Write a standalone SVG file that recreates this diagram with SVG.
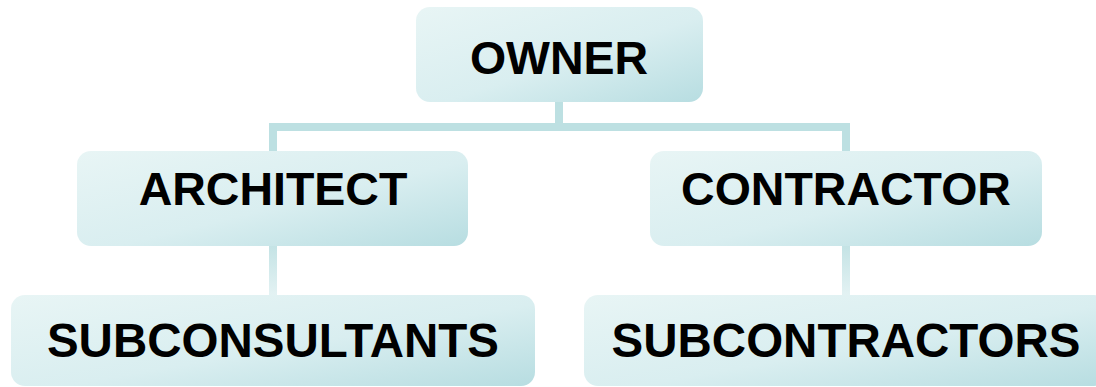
<svg xmlns="http://www.w3.org/2000/svg" width="1096" height="387" viewBox="0 0 1096 387">
  <defs>
    <linearGradient id="boxGrad" x1="0" y1="0" x2="1" y2="1">
      <stop offset="0" stop-color="#e8f5f5"/>
      <stop offset="0.55" stop-color="#d9eef0"/>
      <stop offset="1" stop-color="#b7dde1"/>
    </linearGradient>
    <linearGradient id="lowGrad" x1="0" y1="0" x2="0" y2="1">
      <stop offset="0" stop-color="#c4e3e5"/>
      <stop offset="1" stop-color="#e3f2f3"/>
    </linearGradient>
    <style>
      .box { fill: url(#boxGrad); }
      .lbl { font-family: "Liberation Sans", Arial, sans-serif; font-weight: bold; fill: #000; text-anchor: middle; }
      .top { font-size: 46.5px; }
      .bot { font-size: 47.5px; }
      .conn { fill: #bde0e2; }
      .connLow { fill: url(#lowGrad); }
    </style>
  </defs>
  <g id="connectors">
    <rect class="conn" x="555" y="102" width="8" height="25"/>
    <rect class="conn" x="269" y="123" width="581" height="8"/>
    <rect class="conn" x="269" y="123" width="8" height="28"/>
    <rect class="conn" x="842" y="123" width="8" height="28"/>
    <rect class="connLow" x="269" y="246" width="8" height="49"/>
    <rect class="connLow" x="842" y="246" width="8" height="49"/>
  </g>
  <g id="owner">
    <rect class="box" x="416" y="7" width="287" height="95" rx="14"/>
    <text class="lbl top" x="559" y="74">OWNER</text>
  </g>
  <g id="architect">
    <rect class="box" x="77" y="151" width="391" height="95" rx="14"/>
    <text class="lbl top" x="273" y="205">ARCHITECT</text>
  </g>
  <g id="contractor">
    <rect class="box" x="650" y="151" width="392" height="95" rx="14"/>
    <text class="lbl top" x="846" y="205">CONTRACTOR</text>
  </g>
  <g id="subconsultants">
    <rect class="box" x="11" y="295" width="524" height="91" rx="14"/>
    <text class="lbl bot" x="273" y="357">SUBCONSULTANTS</text>
  </g>
  <g id="subcontractors">
    <rect class="box" x="584" y="295" width="524" height="91" rx="14"/>
    <text class="lbl bot" x="846" y="357">SUBCONTRACTORS</text>
  </g>
</svg>
